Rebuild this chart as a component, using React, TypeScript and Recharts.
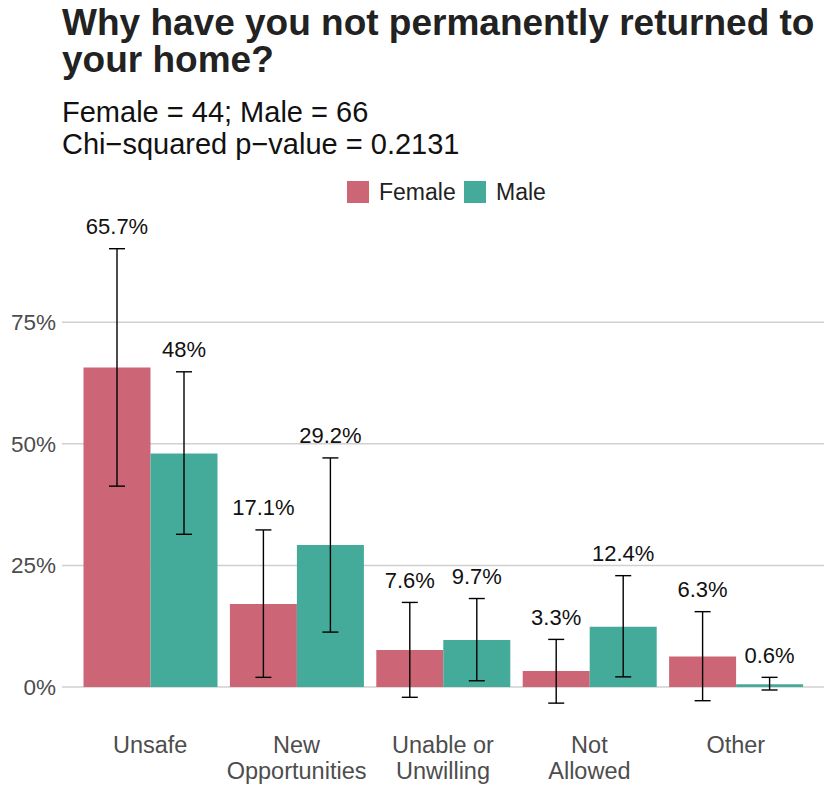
import { Bar, BarChart, ErrorBar, LabelList, ReferenceLine, XAxis, YAxis } from "recharts";

const categories = ["Unsafe", "New\nOpportunities", "Unable or\nUnwilling", "Not\nAllowed", "Other"];
const female = [65.7, 17.1, 7.6, 3.3, 6.3];
const male = [48, 29.2, 9.7, 12.4, 0.6];
const femaleLow = [41.3, 2.0, -2.1, -3.3, -2.8];
const femaleHigh = [90.1, 32.3, 17.4, 9.8, 15.5];
const maleLow = [31.4, 11.3, 1.3, 2.1, -0.6];
const maleHigh = [64.8, 47.1, 18.2, 22.9, 2.0];
const yTicks = [0, 25, 50, 75];

const FONT = "'Liberation Sans', Arial, Helvetica, sans-serif";
const FEMALE_COLOR = "#CC6677";
const MALE_COLOR = "#44AA99";

const data = categories.map((name, i) => ({
    name,
    female: female[i],
    male: male[i],
    femaleErr: [female[i] - femaleLow[i], femaleHigh[i] - female[i]],
    maleErr: [male[i] - maleLow[i], maleHigh[i] - male[i]],
}));

const XTick = (props: any) => {
    const { x, y, payload } = props;
    const lines = String(payload.value).split("\n");
    return <text x={x} y={y} textAnchor="middle" fill="#4D4D4D" fontSize={23.5} fontFamily={FONT}>
        {lines.map((l, i) => <tspan key={i} x={x} dy={i === 0 ? 27 : 26}>{l}</tspan>)}
    </text>;
};

const valueLabel = (vals: number[], highs: number[]) => (props: any) => {
    const vb = props.viewBox || {};
    const x = props.x ?? vb.x;
    const y = props.y ?? vb.y;
    const width = props.width ?? vb.width;
    const height = props.height ?? vb.height;
    const i = props.index;
    const zero = y + height;
    const per = height / vals[i];
    const top = zero - highs[i] * per;
    return <text x={x + width / 2} y={top - 14.5} textAnchor="middle" fill="#111" fontSize={22} fontFamily={FONT}>
        {`${vals[i]}%`}
    </text>;
};

const App = () => {
    return <div style={{ position: "relative", width: 830, height: 805, background: "#fff" }}>
        <style>{"body{margin:0}"}</style>
        <BarChart width={830} height={805} data={data} margin={{ top: 220, right: 6, bottom: 0, left: 0 }}
            barCategoryGap={6.5} barGap={0}>
            {/* gridlines behind the bars */}
            {yTicks.map((t) => <ReferenceLine key={t} y={t} stroke="#D0D0D0" strokeWidth={1.5} zIndex={-100} />)}
            <XAxis dataKey="name" interval={0} tickLine={false} axisLine={false} height={79}
                tickSize={0} tickMargin={0} padding={{ left: 15, right: 15 }} tick={<XTick />} />
            <YAxis domain={[-8, 96]} ticks={yTicks} width={62} tickLine={false} axisLine={false}
                tickSize={0} tickMargin={6} tickFormatter={(v) => `${v}%`}
                tick={{ fill: "#4D4D4D", fontSize: 22.5, fontFamily: FONT }} />
            <Bar dataKey="female" fill={FEMALE_COLOR} isAnimationActive={false}>
                <ErrorBar dataKey="femaleErr" width={8} stroke="#000" strokeWidth={1.4} isAnimationActive={false} />
                <LabelList dataKey="female" content={valueLabel(female, femaleHigh)} />
            </Bar>
            <Bar dataKey="male" fill={MALE_COLOR} isAnimationActive={false}>
                <ErrorBar dataKey="maleErr" width={8} stroke="#000" strokeWidth={1.4} isAnimationActive={false} />
                <LabelList dataKey="male" content={valueLabel(male, maleHigh)} />
            </Bar>
        </BarChart>
        <svg width={830} height={215} style={{ position: "absolute", left: 0, top: 0, pointerEvents: "none" }}>
            <text x={62} fontFamily={FONT} fontWeight="bold" fontSize={37} fill="#222">
                <tspan x={62} y={35}>Why have you not permanently returned to</tspan>
                <tspan x={62} y={72}>your home?</tspan>
            </text>
            <text x={62} fontFamily={FONT} fontSize={29} fill="#111">
                <tspan x={62} y={122}>Female = 44; Male = 66</tspan>
                <tspan x={62} y={154}>Chi−squared p−value = 0.2131</tspan>
            </text>
            <rect x={347} y={181} width={22} height={22} fill={FEMALE_COLOR} />
            <text x={379} y={200} fontFamily={FONT} fontSize={23} fill="#222">Female</text>
            <rect x={464} y={181} width={22} height={22} fill={MALE_COLOR} />
            <text x={496} y={200} fontFamily={FONT} fontSize={23} fill="#222">Male</text>
        </svg>
    </div>;
};

export default App;
